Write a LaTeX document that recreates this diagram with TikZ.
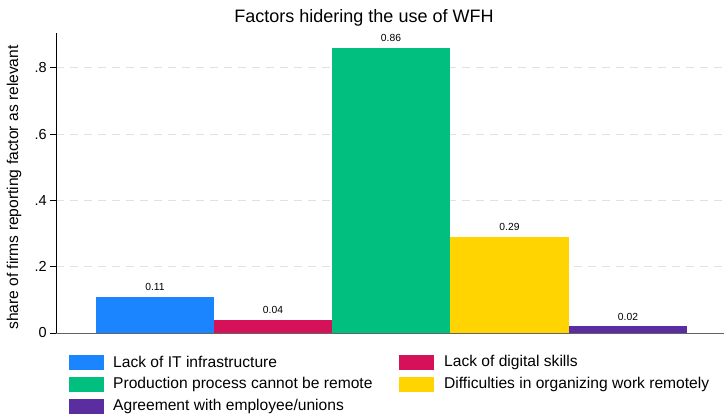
\documentclass[tikz,border=0pt]{standalone}
\usepackage{fontspec}
\setmainfont{Liberation Sans}
\definecolor{cblue}{RGB}{26,133,255}
\definecolor{cred}{RGB}{212,17,89}
\definecolor{cgreen}{RGB}{0,191,127}
\definecolor{cyellow}{RGB}{255,212,0}
\definecolor{cpurple}{RGB}{90,45,160}
\definecolor{grid}{RGB}{225,225,225}
\definecolor{axisgray}{RGB}{100,100,100}
\tikzset{
  barlabel/.style={font=\fontsize{10.3}{12}\selectfont, anchor=south, inner sep=0pt},
  ticklabel/.style={font=\fontsize{14.5}{16}\selectfont, anchor=east, inner sep=0pt},
  legtext/.style={font=\fontsize{15.6}{18}\selectfont, anchor=west, inner sep=0pt},
  legbox/.style={minimum width=36pt, minimum height=16pt, inner sep=0pt, draw=white, line width=0.3pt},
  gridline/.style={grid, dashed, dash pattern=on 8pt off 6pt, line width=0.6pt}
}
\begin{document}
\begin{tikzpicture}[x=1pt,y=-1pt]
\useasboundingbox[fill=white] (0,0) rectangle (724,415);
% title
\node[font=\fontsize{18}{22}\selectfont, inner sep=0pt] (title) at (364,18) {Factors hidering the use of WFH};
% gridlines
\foreach \v/\n in {0.2/a,0.4/b,0.6/c,0.8/d}{
  \draw[gridline] (56,{333-\v*331.5}) -- (724,{333-\v*331.5});
}
% bars
\fill[cblue] (96,333) rectangle (214,{333-0.11*331.5});
\fill[cred] (214,333) rectangle (332,{333-0.04*331.5});
\fill[cgreen] (332,333) rectangle (450,{333-0.86*331.5});
\fill[cyellow] (450,333) rectangle (569,{333-0.29*331.5});
\fill[cpurple] (569,333) rectangle (687,{333-0.02*331.5});
% bar labels
\node[barlabel] (l1) at (155,{333-0.11*331.5-6}) {0.11};
\node[barlabel] (l2) at (273,{333-0.04*331.5-6}) {0.04};
\node[barlabel] (l3) at (391,{333-0.86*331.5-6}) {0.86};
\node[barlabel] (l4) at (509.5,{333-0.29*331.5-6}) {0.29};
\node[barlabel] (l5) at (628,{333-0.02*331.5-6}) {0.02};
% axes
\draw[axisgray, line width=0.8pt] (56,333) -- (724,333);
\draw[black, line width=0.8pt] (56,33) -- (56,333);
\foreach \v/\t in {0/0,0.2/.2,0.4/.4,0.6/.6,0.8/.8}{
  \draw[black, line width=0.8pt] (50,{333-\v*331.5}) -- (56,{333-\v*331.5});
  \node[ticklabel] at (47,{333-\v*331.5}) {\t};
}
\node[rotate=90, font=\fontsize{15.6}{18}\selectfont, inner sep=0pt] (ytitle) at (14,187.5) {share of firms reporting factor as relevant};
% legend
\node[legbox, fill=cblue] (k1) at (86,362) {};
\node[legtext] (t1) at (113,362) {Lack of IT infrastructure};
\node[legbox, fill=cgreen] (k2) at (86,384) {};
\node[legtext] (t2) at (113,384) {Production process cannot be remote};
\node[legbox, fill=cpurple] (k3) at (86,406) {};
\node[legtext] (t3) at (113,406) {Agreement with employee/unions};
\node[legbox, fill=cred] (k4) at (416.5,362) {};
\node[legtext] (t4) at (444,362) {Lack of digital skills};
\node[legbox, fill=cyellow] (k5) at (416.5,384) {};
\node[legtext] (t5) at (444,384) {Difficulties in organizing work remotely};
\end{tikzpicture}
\end{document}
